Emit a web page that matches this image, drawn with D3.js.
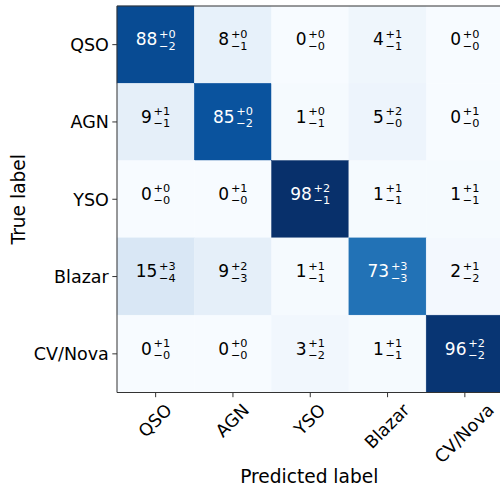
<!DOCTYPE html>
<html>
<head>
<meta charset="utf-8">
<script src="https://cdn.jsdelivr.net/npm/d3@7"></script>
<style>
  body { margin: 0; background: #fff; }
  text { font-family: "DejaVu Sans", sans-serif; fill: #000; }
</style>
</head>
<body>
<script>
var classes = ["QSO", "AGN", "YSO", "Blazar", "CV/Nova"];

// percentages, rows = true label, cols = predicted label
var values = [
  [88, 8, 0, 4, 0],
  [9, 85, 1, 5, 0],
  [0, 0, 98, 1, 1],
  [15, 9, 1, 73, 2],
  [0, 0, 3, 1, 96]
];
var errUp = [
  [0, 0, 0, 1, 0],
  [1, 0, 0, 2, 1],
  [0, 1, 2, 1, 1],
  [3, 2, 1, 3, 1],
  [1, 0, 1, 1, 2]
];
var errDown = [
  [2, 1, 0, 1, 0],
  [1, 2, 1, 0, 0],
  [0, 0, 1, 1, 1],
  [4, 3, 1, 3, 2],
  [0, 0, 2, 1, 2]
];
var bluesStops = ["#f7fbff", "#deebf7", "#c6dbef", "#9ecae1", "#6baed6",
                  "#4292c6", "#2171b5", "#08519c", "#08306b"];

var width = 500,
    height = 491;
var plotLeft = 117, plotTop = 6, size = 386.5;
var tickFont = 17.5, labelFont = 18.6;

var svg = d3.select("body").append("svg")
    .attr("width", width)
    .attr("height", height);

var x = d3.scaleBand().domain(classes).range([plotLeft, plotLeft + size]);
var y = d3.scaleBand().domain(classes).range([plotTop, plotTop + size]);

var vmax = d3.max(values, function(r) { return d3.max(r); });
var color = d3.scaleLinear()
    .domain(d3.range(bluesStops.length).map(function(i) { return vmax * i / (bluesStops.length - 1); }))
    .range(bluesStops)
    .clamp(true);

var cells = [];
values.forEach(function(row, i) {
  row.forEach(function(v, j) {
    cells.push({ t: classes[i], p: classes[j], v: v, up: errUp[i][j], down: errDown[i][j] });
  });
});

var g = svg.append("g");

g.selectAll("rect.cell")
    .data(cells)
    .enter().append("rect")
    .attr("class", "cell")
    .attr("x", function(d) { return x(d.p); })
    .attr("y", function(d) { return y(d.t); })
    .attr("width", x.bandwidth())
    .attr("height", y.bandwidth())
    .attr("fill", function(d) { return color(d.v); })
    .attr("stroke", function(d) { return color(d.v); })
    .attr("stroke-width", 0.5);

// cell annotations: value with stacked +up / -down
var labels = g.selectAll("g.lab")
    .data(cells)
    .enter().append("g")
    .attr("class", "lab");

labels.each(function(d) {
  var el = d3.select(this);
  var fill = d.v > vmax / 2 ? "#fff" : "#000";
  var cx = x(d.p) + x.bandwidth() / 2,
      cy = y(d.t) + y.bandwidth() / 2;
  var main = el.append("text")
      .attr("font-size", 17)
      .style("fill", fill)
      .text(d.v);
  var sup = el.append("text")
      .attr("font-size", 11.3)
      .style("fill", fill)
      .text("+" + d.up);
  var sub = el.append("text")
      .attr("font-size", 11.3)
      .style("fill", fill)
      .text("\u2212" + d.down);
  var mw = main.node().getComputedTextLength();
  var sw = Math.max(sup.node().getComputedTextLength(), sub.node().getComputedTextLength());
  var gap = 1.7;
  var x0 = cx - (mw + gap + sw) / 2;
  main.attr("x", x0).attr("y", cy + 0.8);
  sup.attr("x", x0 + mw + gap).attr("y", cy - 7);
  sub.attr("x", x0 + mw + gap).attr("y", cy + 5);
});

// spines
svg.append("path")
    .attr("d", "M" + plotLeft + "," + plotTop + "H" + (plotLeft + size) + "V" + (plotTop + size) + "H" + plotLeft + "Z")
    .attr("fill", "none")
    .attr("stroke", "#333")
    .attr("stroke-width", 1);

// y ticks
var yTicks = svg.append("g").selectAll("g")
    .data(classes)
    .enter().append("g")
    .attr("transform", function(d) { return "translate(0," + (y(d) + y.bandwidth() / 2) + ")"; });
yTicks.append("line")
    .attr("x1", plotLeft - 4.7).attr("x2", plotLeft)
    .attr("stroke", "#333");
yTicks.append("text")
    .attr("x", plotLeft - 8.2)
    .attr("dy", "0.36em")
    .attr("text-anchor", "end")
    .attr("font-size", tickFont)
    .text(function(d) { return d; });

// x ticks, rotated 45 and centred on the tick
var xTicks = svg.append("g").selectAll("g")
    .data(classes)
    .enter().append("g")
    .attr("transform", function(d) { return "translate(" + (x(d) + x.bandwidth() / 2) + ",0)"; });
xTicks.append("line")
    .attr("y1", plotTop + size).attr("y2", plotTop + size + 4.7)
    .attr("stroke", "#333");
xTicks.append("text")
    .attr("text-anchor", "middle")
    .attr("dy", "0.3em")
    .attr("font-size", tickFont)
    .text(function(d) { return d; })
    .each(function() {
      var w = this.getComputedTextLength();
      var cy = plotTop + size + 9.4 + (w + 0.9 * tickFont) / (2 * Math.SQRT2);
      d3.select(this).attr("transform", "translate(0," + cy + ") rotate(-45)");
    });

// axis titles
svg.append("text")
    .attr("x", plotLeft + size / 2 - 1)
    .attr("y", 483)
    .attr("text-anchor", "middle")
    .attr("font-size", labelFont)
    .text("Predicted label");

svg.append("text")
    .attr("transform", "translate(25," + (plotTop + size / 2) + ") rotate(-90)")
    .attr("text-anchor", "middle")
    .attr("font-size", labelFont)
    .text("True label");
</script>
</body>
</html>
